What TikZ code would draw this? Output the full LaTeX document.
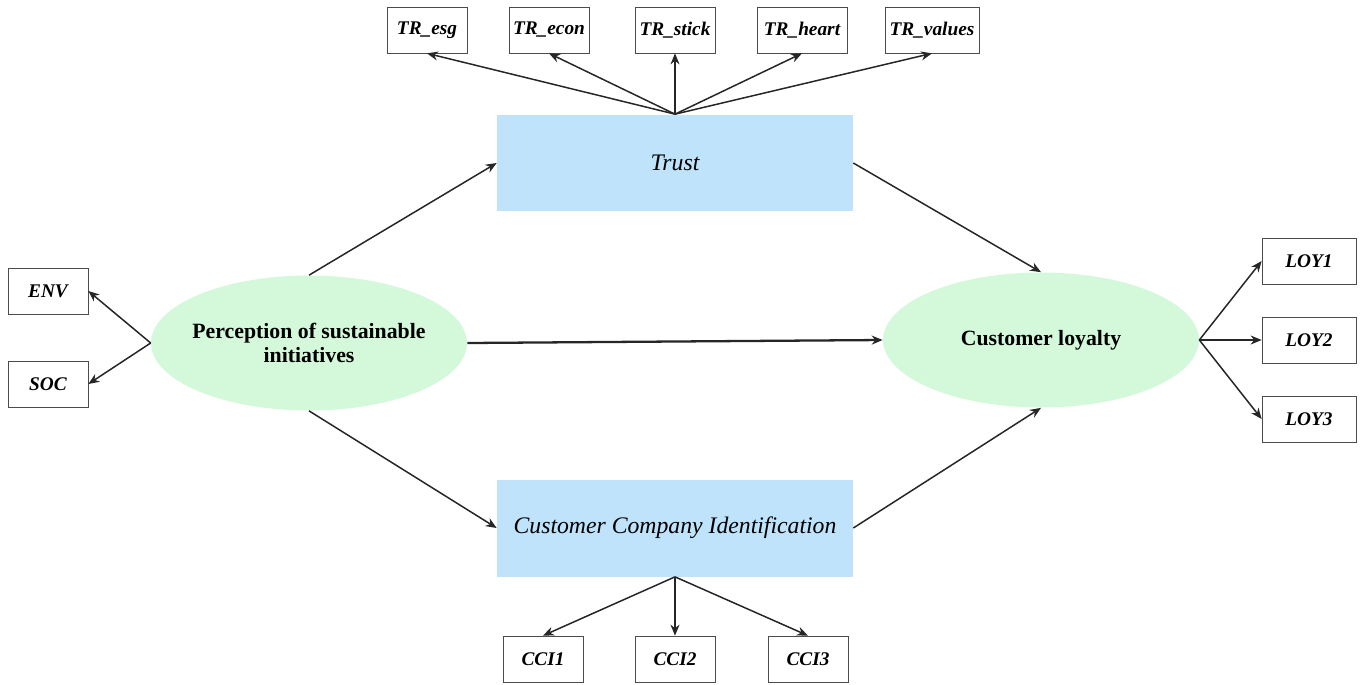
\documentclass[tikz,border=0pt]{standalone}
\usepackage{fontspec}
\setmainfont{Liberation Serif}
\usepackage{tikz}
\usetikzlibrary{arrows.meta,shapes.geometric}
\definecolor{latentgreen}{HTML}{D4F8DA}
\definecolor{medblue}{HTML}{BEE3FB}

\begin{document}
\begin{tikzpicture}[
  x=0.02cm, y=-0.02cm,
  item/.style={draw=black!70,fill=white,minimum width=1.6cm,minimum height=0.92cm,
              inner sep=1pt,font=\fontsize{11}{13}\selectfont\bfseries\itshape},
  latent/.style={ellipse,fill=latentgreen,minimum width=6.32cm,minimum height=2.7cm,
              inner xsep=-0.12cm,inner ysep=0pt,align=center,
              font=\fontsize{12.4}{13.8}\selectfont\bfseries},
  mediator/.style={fill=medblue,minimum width=7.12cm,minimum height=1.94cm,
              inner sep=0pt,font=\fontsize{13.5}{15}\selectfont\itshape},
  arrow/.style={-{Stealth[length=2.2mm,width=1.8mm]},line width=0.85pt,draw=black!85}
]
\useasboundingbox (0,0) rectangle (1363,684);
% latent constructs
\node[latent] (psi) at (309,343) {Perception of sustainable\\initiatives};
\node[latent] (loy) at (1041,340) {Customer loyalty};
\node[mediator] (trust) at (675,163) {Trust};
\node[mediator] (cci) at (675,528) {Customer Company Identification};
% indicators
\node[item] (esg) at (427,30) {TR\_esg};
\node[item] (econ) at (549,30) {TR\_econ};
\node[item] (stick) at (675,30) {TR\_stick};
\node[item,minimum width=1.8cm] (heart) at (802,30) {TR\_heart};
\node[item,minimum width=1.88cm] (values) at (932,30) {TR\_values};
\node[item] (env) at (48,291) {ENV};
\node[item] (soc) at (48,384) {SOC};
\node[item,minimum width=1.88cm] (loy1) at (1309,261) {LOY1};
\node[item,minimum width=1.88cm] (loy2) at (1309,340) {LOY2};
\node[item,minimum width=1.88cm] (loy3) at (1309,419) {LOY3};
\node[item] (cci1) at (543,659) {CCI1};
\node[item] (cci2) at (675,659) {CCI2};
\node[item] (cci3) at (808,659) {CCI3};
% structural paths
\draw[arrow] (psi.north)--(trust.west);
\draw[arrow] (psi.south)--(cci.west);
\draw[arrow] (trust.east)--(loy.north);
\draw[arrow] (cci.east)--(loy.south);
\draw[arrow,line width=1.3pt] (psi.east)--(loy.west);
% measurement paths
\foreach \n in {esg,econ,stick,heart,values}
  \draw[arrow] (trust.north)--(\n.south);
\foreach \n in {cci1,cci2,cci3}
  \draw[arrow] (cci.south)--(\n.north);
\foreach \n in {env,soc}
  \draw[arrow] (psi.west)--(\n.east);
\foreach \n in {loy1,loy2,loy3}
  \draw[arrow] (loy.east)--(\n.west);
\end{tikzpicture}
\end{document}
